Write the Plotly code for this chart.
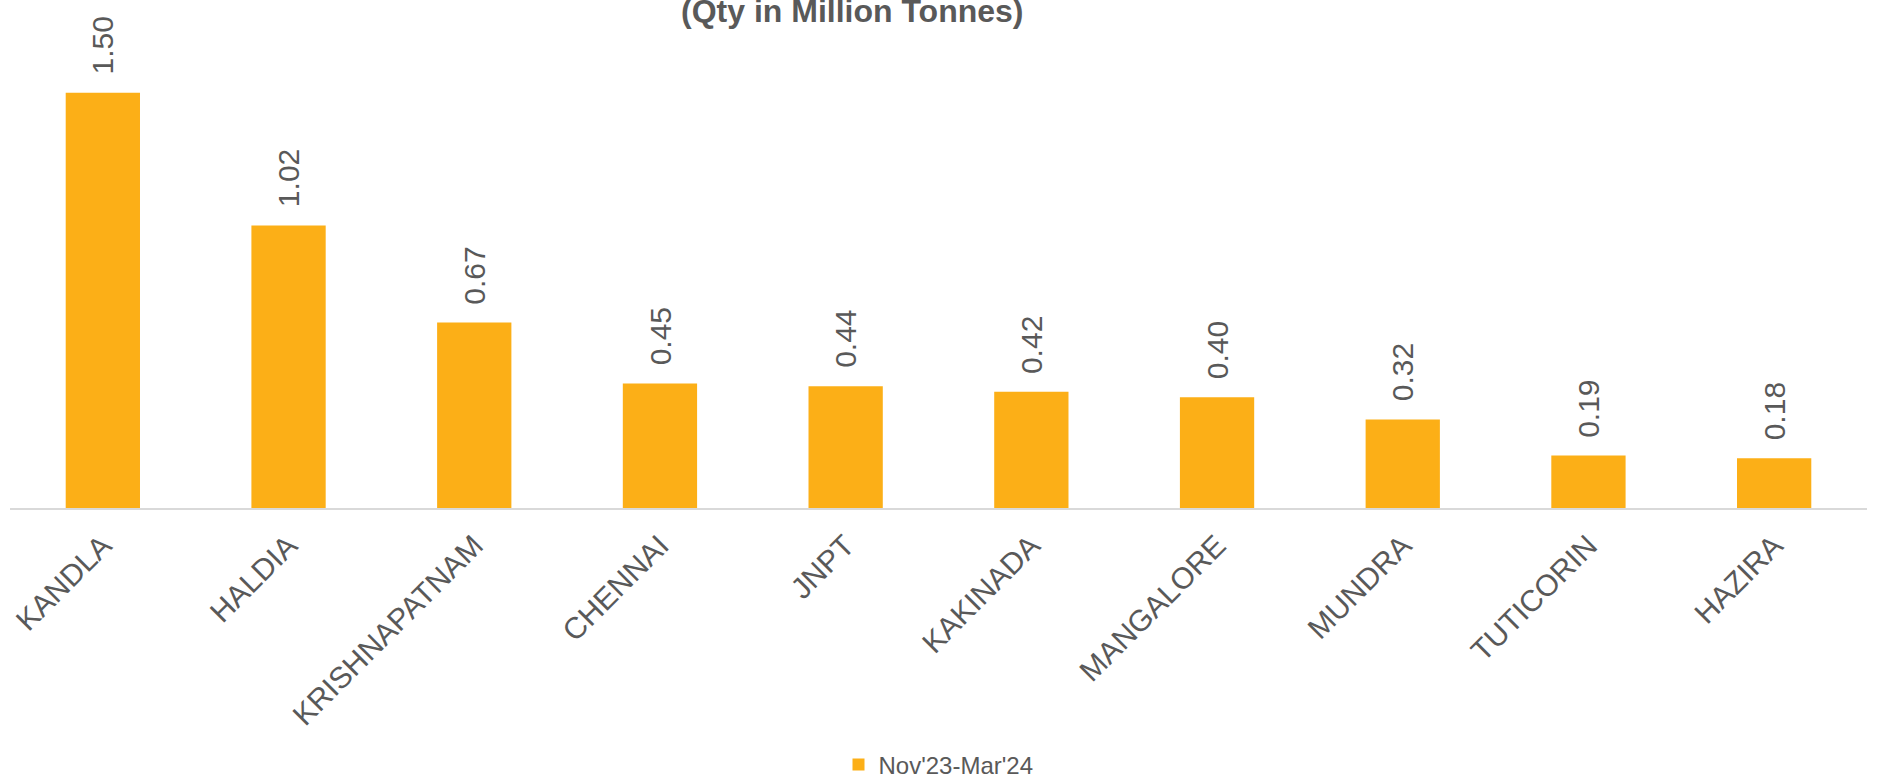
import plotly.graph_objects as go

ports = ["KANDLA", "HALDIA", "KRISHNAPATNAM", "CHENNAI", "JNPT", "KAKINADA",
         "MANGALORE", "MUNDRA", "TUTICORIN", "HAZIRA"]
values = [1.50, 1.02, 0.67, 0.45, 0.44, 0.42, 0.40, 0.32, 0.19, 0.18]
series_name = "Nov'23-Mar'24"
title_text = "(Qty in Million Tonnes)"

BAR = "#FCAF17"
TXT = "#595959"
FONT = "Liberation Sans, Arial, sans-serif"

fig = go.Figure()
fig.add_trace(go.Bar(x=ports, y=values, name=series_name, marker_color=BAR,
                     marker_line_width=0, showlegend=True))

for p, v in zip(ports, values):
    fig.add_annotation(x=p, y=v, text=f"{v:.2f}", textangle=-90, showarrow=False,
                       xanchor="center", yanchor="bottom", yshift=16,
                       font=dict(family=FONT, size=30, color=TXT))

fig.add_annotation(xref="paper", yref="paper", x=0.4534, y=1.123, text=f"<b>{title_text}</b>",
                   showarrow=False, xanchor="center", yanchor="middle",
                   font=dict(family=FONT, size=32, color=TXT))

fig.update_layout(
    width=1878, height=778,
    margin=dict(l=10, r=11, t=65, b=270, autoexpand=False),
    plot_bgcolor="white", paper_bgcolor="white",
    bargap=0.6,
    showlegend=True,
    legend=dict(orientation="h", x=0.5, xanchor="center", y=-0.58, yanchor="middle",
                font=dict(family=FONT, size=24, color=TXT)),
    xaxis=dict(tickangle=-45, tickfont=dict(family=FONT, size=30, color=TXT),
               showline=True, linecolor="#D9D9D9", linewidth=2, ticks="",
               automargin=False, ticklabelstandoff=6),
    yaxis=dict(range=[0, 1.6], visible=False, showgrid=False, automargin=False),
)

fig.write_html("out.html")
